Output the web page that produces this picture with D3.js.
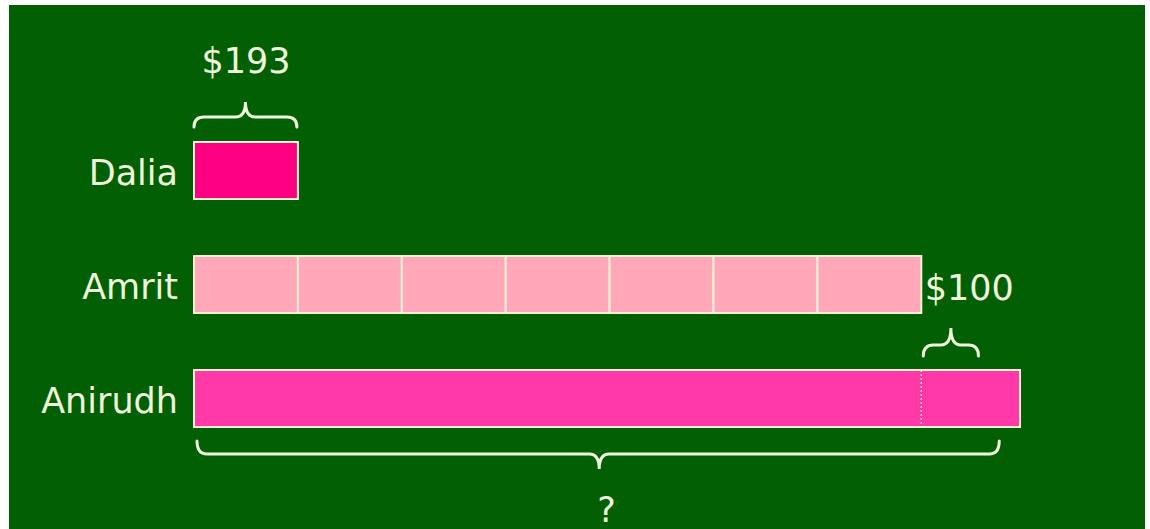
<!DOCTYPE html>
<meta charset="utf-8">
<style>
  body { margin: 0; background: #fff; }
  text { font-family: "DejaVu Sans", Verdana, sans-serif; fill: #eef7dc; }
</style>
<body>
<svg width="1150" height="529"></svg>
<script src="https://d3js.org/d3.v7.min.js"></script>
<script>
// people and their bar segments (in units of Dalia's amount)
var names = ["Dalia", "Amrit", "Anirudh"];
var segments = [
    [1],
    [1, 1, 1, 1, 1, 1, 1],
    [7, 0.95]
];
var fills = ["#fc0081", "#ffa8ba", "#ff3aa8"];
var valueLabels = ["$193", "$100", "?"];

var svg = d3.select("svg"),
    width = +svg.attr("width"),
    height = +svg.attr("height");

svg.append("rect")
    .attr("x", 9).attr("y", 5)
    .attr("width", 1136).attr("height", height - 5)
    .attr("fill", "#035f03");

var x = d3.scaleLinear().domain([0, 7.95]).range([194, 1020]);
var y = d3.scaleBand().domain(names).range([113.5, 455.5]).paddingInner(0.5).paddingOuter(0.25);

// row labels
svg.selectAll(".name")
    .data(names)
    .enter().append("text")
    .attr("class", "name")
    .attr("x", 178)
    .attr("y", function(d) { return y(d) + y.bandwidth() / 2 + 14; })
    .attr("text-anchor", "end")
    .style("font-size", "35px")
    .text(function(d) { return d; });

// bars, one rect per segment
names.forEach(function(name, i) {
    var start = 0;
    var segs = segments[i].map(function(v) {
        var s = { x0: start, x1: start + v };
        start += v;
        return s;
    });
    var row = svg.append("g");
    row.selectAll("rect")
        .data(segs)
        .enter().append("rect")
        .attr("x", function(d) { return x(d.x0); })
        .attr("y", y(name))
        .attr("width", function(d) { return x(d.x1) - x(d.x0); })
        .attr("height", y.bandwidth())
        .attr("fill", fills[i])
        .attr("stroke", i == 2 ? "none" : "#f6efd8")
        .attr("stroke-width", 2);
    if (i == 2) {
        // outline whole bar, dotted split
        row.append("rect")
            .attr("x", x(0)).attr("y", y(name))
            .attr("width", x(start) - x(0)).attr("height", y.bandwidth())
            .attr("fill", "none").attr("stroke", "#f6efd8").attr("stroke-width", 2);
        row.append("line")
            .attr("x1", x(segs[0].x1)).attr("x2", x(segs[0].x1))
            .attr("y1", y(name)).attr("y2", y(name) + y.bandwidth())
            .attr("stroke", "#f6efd8").attr("stroke-width", 1.2)
            .attr("stroke-dasharray", "2,2");
    }
});

// curly brace path: ends at yEnd, arms at yArm, tip at yTip
function brace(x1, x2, yEnd, yArm, yTip, xm) {
    xm = xm || (x1 + x2) / 2;
    var r = 10;
    return "M" + x1 + "," + yEnd +
        "Q" + x1 + "," + yArm + " " + (x1 + r) + "," + yArm +
        "L" + (xm - r) + "," + yArm +
        "Q" + xm + "," + yArm + " " + xm + "," + yTip +
        "Q" + xm + "," + yArm + " " + (xm + r) + "," + yArm +
        "L" + (x2 - r) + "," + yArm +
        "Q" + x2 + "," + yArm + " " + x2 + "," + yEnd;
}

var braces = [
    { d: brace(x(0), x(1) - 1, 127, 117, 102), tx: x(0.5), ty: 73 },
    { d: brace(x(7) + 2, x(7.55), 356, 345, 328), tx: x(7) + 48, ty: 300 },
    { d: brace(x(0) + 3, x(7.75), 441, 454, 469, x(3.9)), tx: x(3.97), ty: 522 }
];

svg.selectAll(".brace")
    .data(braces)
    .enter().append("path")
    .attr("class", "brace")
    .attr("d", function(d) { return d.d; })
    .attr("fill", "none")
    .attr("stroke", "#eef7dc")
    .attr("stroke-width", 3)
    .attr("stroke-linecap", "round");

svg.selectAll(".value")
    .data(braces)
    .enter().append("text")
    .attr("class", "value")
    .attr("x", function(d) { return d.tx; })
    .attr("y", function(d) { return d.ty; })
    .attr("text-anchor", "middle")
    .style("font-size", "35px")
    .text(function(d, i) { return valueLabels[i]; });
</script>
</body>
